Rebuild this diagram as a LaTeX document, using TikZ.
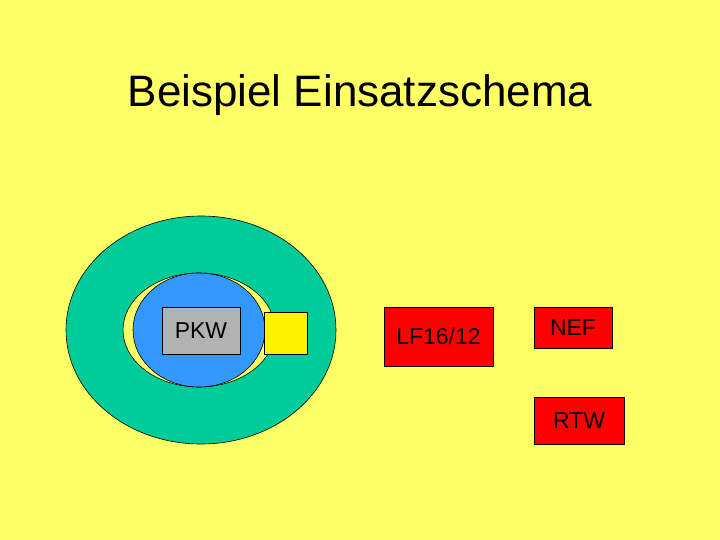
\documentclass[tikz,border=0pt]{standalone}
\usepackage{fontspec}
\setmainfont{Liberation Sans}
\usetikzlibrary{shapes.geometric}
\definecolor{bgyellow}{HTML}{FFFF66}
\definecolor{ringgreen}{HTML}{00CC99}
\definecolor{innerblue}{HTML}{3399FF}
\definecolor{pkwgray}{HTML}{B2B2B2}
\tikzset{
  oval/.style={ellipse, draw=black, line width=0.6pt, inner sep=0pt},
  veh/.style={rectangle, draw=black, line width=0.6pt, inner sep=0pt, font=\fontsize{23}{27}\selectfont},
}
\begin{document}
\begin{tikzpicture}[x=1pt,y=-1pt]
\useasboundingbox (0,0) rectangle (720,540);
\fill[bgyellow] (0,0) rectangle (720,540);
\node[font=\fontsize{44}{50}\selectfont] (title) at (360,95) {Beispiel Einsatzschema};
\node[oval, fill=ringgreen, minimum width=270pt, minimum height=228pt] (ring) at (201,330) {};
\node[oval, fill=bgyellow, minimum width=152pt, minimum height=114pt] (hole) at (199,330) {};
\node[oval, fill=innerblue, minimum width=132pt, minimum height=114pt] (inner) at (199,330) {};
\node[veh, fill=pkwgray, minimum width=78pt, minimum height=47pt] (pkw) at (201,330.5) {PKW};
\node[veh, fill=yellow, minimum width=43pt, minimum height=42pt] (sq) at (285.5,333) {};
\node[veh, fill=red, minimum width=109pt, minimum height=59pt] (lf) at (438.5,336.5) {LF16/12};
\node[veh, fill=red, minimum width=78pt, minimum height=41pt] (nef) at (573,327.5) {NEF};
\node[veh, fill=red, minimum width=90pt, minimum height=47pt] (rtw) at (579,420.5) {RTW};
\end{tikzpicture}
\end{document}
